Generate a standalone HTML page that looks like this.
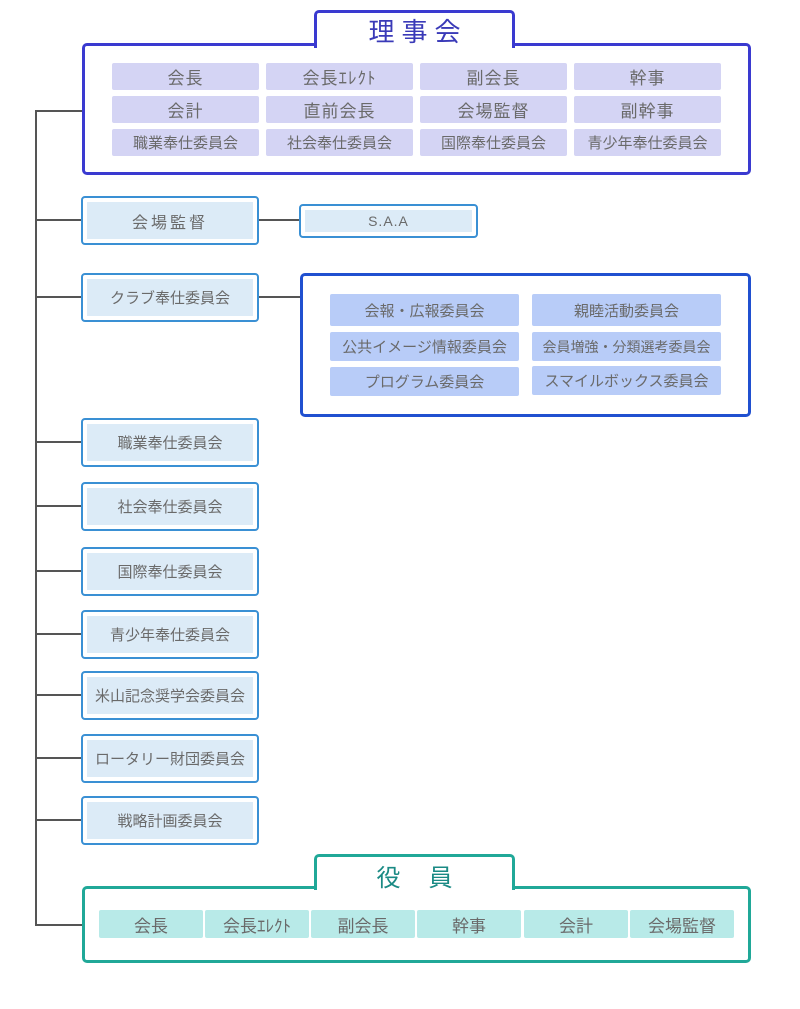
<!DOCTYPE html>
<html><head><meta charset="utf-8"><style>
body{margin:0;width:800px;height:1009px;background:#fff;position:relative;overflow:hidden;font-family:"Liberation Sans","Noto Sans CJK JP",sans-serif;color:#6a6a6a}
div{position:absolute;box-sizing:border-box}
.l{background:#555}
.c{display:flex;align-items:center;justify-content:center;white-space:nowrap}
.bc{background:#d4d4f4;border-radius:2px;font-size:17px;letter-spacing:1px}
.sm{font-size:15px;letter-spacing:0}
.lb{left:81px;width:178px;border:2px solid #3a90d4;border-radius:4px;background:#fff}
.lb .in{left:4px;top:4px;right:4px;bottom:4px;background:#dcebf7;font-size:15px}
.cc{background:#b8ccf8;border-radius:2px;font-size:15px}
.oc{background:#b8eae8;border-radius:2px;font-size:17px;top:910px;height:28px;width:104px}
</style></head><body>
<div class="l" style="left:35px;top:110px;width:2px;height:816px"></div>
<div class="l" style="left:35px;top:110px;width:48px;height:2px"></div>
<div class="l" style="left:35px;top:219px;width:47px;height:2px"></div>
<div class="l" style="left:35px;top:296px;width:47px;height:2px"></div>
<div class="l" style="left:35px;top:441px;width:47px;height:2px"></div>
<div class="l" style="left:35px;top:505px;width:47px;height:2px"></div>
<div class="l" style="left:35px;top:570px;width:47px;height:2px"></div>
<div class="l" style="left:35px;top:633px;width:47px;height:2px"></div>
<div class="l" style="left:35px;top:694px;width:47px;height:2px"></div>
<div class="l" style="left:35px;top:757px;width:47px;height:2px"></div>
<div class="l" style="left:35px;top:819px;width:47px;height:2px"></div>
<div class="l" style="left:35px;top:924px;width:48px;height:2px"></div>
<div class="l" style="left:259px;top:219px;width:41px;height:2px"></div>
<div class="l" style="left:259px;top:296px;width:42px;height:2px"></div>

<div style="left:82px;top:43px;width:669px;height:132px;border:3px solid #3a3ad0;border-radius:5px;background:#fff"></div>
<div style="left:314px;top:10px;width:201px;height:38px;border:3px solid #3a3ad0;border-bottom:none;border-radius:5px 5px 0 0;background:#fff"></div>
<div class="c" style="left:314px;top:13px;width:201px;height:34px;font-size:26px;color:#3a3ab8;letter-spacing:7px;padding-left:7px">理事会</div>
<div class="c bc" style="left:112px;top:63px;width:147px;height:27px">会長</div>
<div class="c bc" style="left:266px;top:63px;width:147px;height:27px">会長ｴﾚｸﾄ</div>
<div class="c bc" style="left:420px;top:63px;width:147px;height:27px">副会長</div>
<div class="c bc" style="left:574px;top:63px;width:147px;height:27px">幹事</div>
<div class="c bc" style="left:112px;top:96px;width:147px;height:27px">会計</div>
<div class="c bc" style="left:266px;top:96px;width:147px;height:27px">直前会長</div>
<div class="c bc" style="left:420px;top:96px;width:147px;height:27px">会場監督</div>
<div class="c bc" style="left:574px;top:96px;width:147px;height:27px">副幹事</div>
<div class="c bc sm" style="left:112px;top:129px;width:147px;height:27px">職業奉仕委員会</div>
<div class="c bc sm" style="left:266px;top:129px;width:147px;height:27px">社会奉仕委員会</div>
<div class="c bc sm" style="left:420px;top:129px;width:147px;height:27px">国際奉仕委員会</div>
<div class="c bc sm" style="left:574px;top:129px;width:147px;height:27px">青少年奉仕委員会</div>

<div class="lb" style="top:196px;height:49px"><div class="in c" style="letter-spacing:3px;font-size:16px">会場監督</div></div>
<div style="left:299px;top:204px;width:179px;height:34px;border:2px solid #3a90d4;border-radius:4px;background:#fff"><div class="c" style="left:4px;top:4px;right:4px;bottom:4px;background:#dcebf7;font-size:14px;letter-spacing:1px">S.A.A</div></div>
<div class="lb" style="top:273px;height:49px"><div class="in c">クラブ奉仕委員会</div></div>
<div class="lb" style="top:418px;height:49px"><div class="in c">職業奉仕委員会</div></div>
<div class="lb" style="top:482px;height:49px"><div class="in c">社会奉仕委員会</div></div>
<div class="lb" style="top:547px;height:49px"><div class="in c">国際奉仕委員会</div></div>
<div class="lb" style="top:610px;height:49px"><div class="in c">青少年奉仕委員会</div></div>
<div class="lb" style="top:671px;height:49px"><div class="in c">米山記念奨学会委員会</div></div>
<div class="lb" style="top:734px;height:49px"><div class="in c">ロータリー財団委員会</div></div>
<div class="lb" style="top:796px;height:49px"><div class="in c">戦略計画委員会</div></div>

<div style="left:300px;top:273px;width:451px;height:144px;border:3px solid #2050d0;border-radius:5px;background:#fff"></div>
<div class="c cc" style="left:330px;top:294px;width:189px;height:32px">会報・広報委員会</div>
<div class="c cc" style="left:532px;top:294px;width:189px;height:32px">親睦活動委員会</div>
<div class="c cc" style="left:330px;top:332px;width:189px;height:29px">公共イメージ情報委員会</div>
<div class="c cc" style="left:532px;top:332px;width:189px;height:29px;font-size:14px">会員増強・分類選考委員会</div>
<div class="c cc" style="left:330px;top:367px;width:189px;height:29px">プログラム委員会</div>
<div class="c cc" style="left:532px;top:366px;width:189px;height:29px">スマイルボックス委員会</div>

<div style="left:82px;top:886px;width:669px;height:77px;border:3px solid #20a898;border-radius:5px;background:#fff"></div>
<div style="left:314px;top:854px;width:201px;height:36px;border:3px solid #20a898;border-bottom:none;border-radius:5px 5px 0 0;background:#fff"></div>
<div class="c" style="left:314px;top:859px;width:201px;height:32px;font-size:24px;color:#1a8a84;letter-spacing:28px;padding-left:28px">役員</div>
<div class="c oc" style="left:99px">会長</div>
<div class="c oc" style="left:205px">会長ｴﾚｸﾄ</div>
<div class="c oc" style="left:311px">副会長</div>
<div class="c oc" style="left:417px">幹事</div>
<div class="c oc" style="left:524px">会計</div>
<div class="c oc" style="left:630px">会場監督</div>
</body></html>
